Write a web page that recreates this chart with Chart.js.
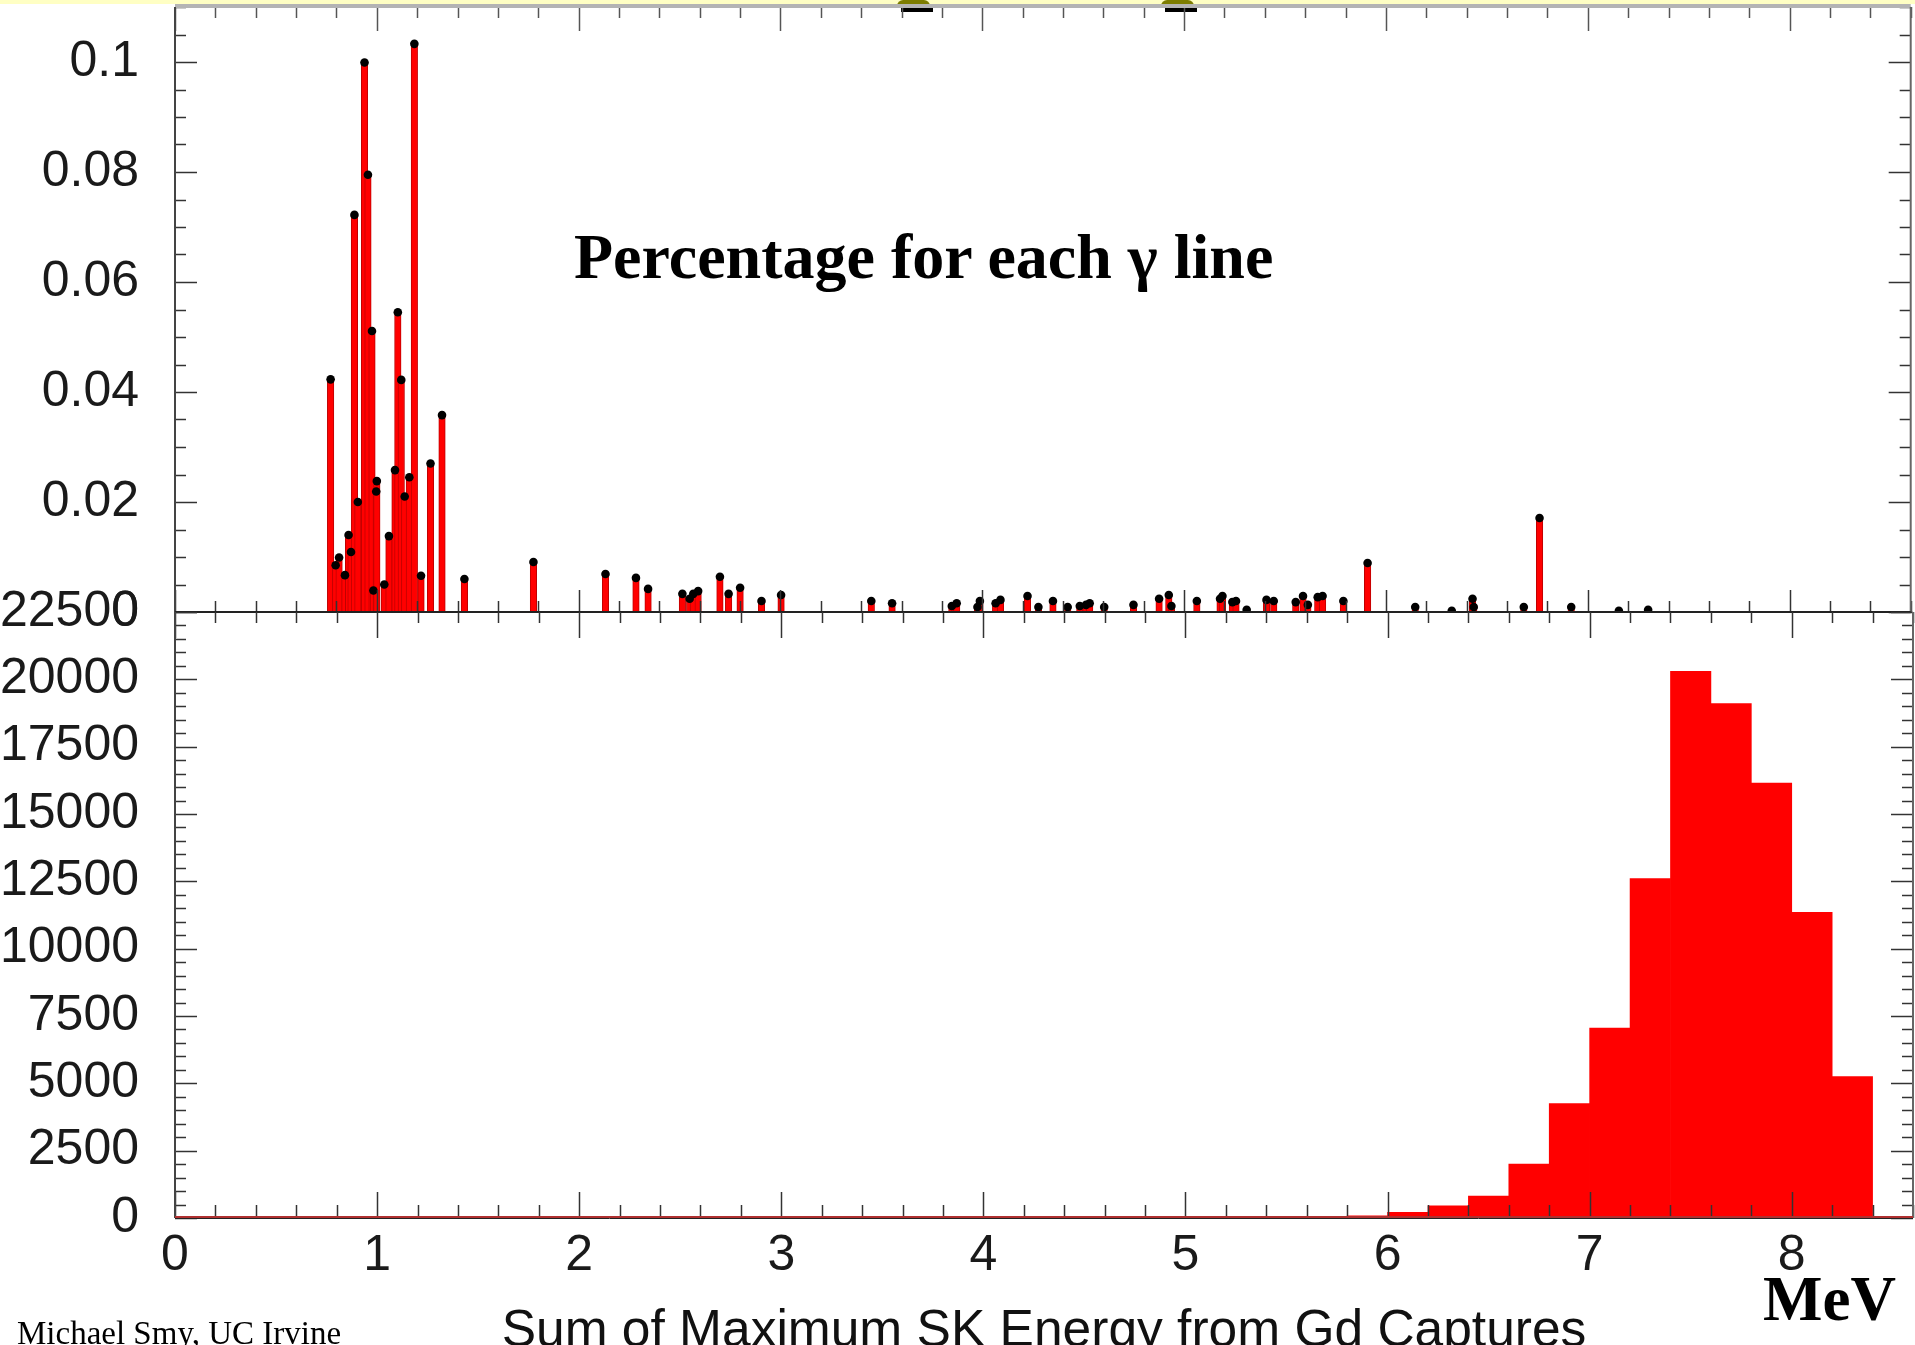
<!DOCTYPE html>
<html><head><meta charset="utf-8">
<script src="https://cdn.jsdelivr.net/npm/chart.js@4.4.0/dist/chart.umd.min.js"></script>
<style>
html,body{margin:0;padding:0;background:#fff;overflow:hidden;width:1915px;height:1345px;}
#wrap{position:relative;width:1915px;height:1345px;overflow:hidden;background:#fff;}
#band{position:absolute;left:0;top:0;width:1915px;height:4px;background:#ffffc4;}
canvas{position:absolute;left:0;top:0;}
.t{position:absolute;white-space:nowrap;color:#000;line-height:1;}
#title{left:574px;top:220px;font:bold 64px 'Liberation Serif','Times New Roman',serif;}
#mev{left:1763px;top:1263px;font:bold 63px 'Liberation Serif','Times New Roman',serif;}
#author{left:17px;top:1315px;font:33px 'Liberation Serif','Times New Roman',serif;}
#xtitle{left:175px;width:1738px;text-align:center;top:1298px;font:51.5px 'Liberation Sans',Arial,sans-serif;color:#111;}
.pin{position:absolute;top:0;width:33px;height:7px;background:#7d7d00;border-radius:14px 14px 2px 2px;}
.pinb{position:absolute;top:8px;width:32px;height:4px;background:#000;}
</style></head><body>
<div id="wrap">
<div id="band"></div>
<div class="pin" style="left:897px"></div><div class="pinb" style="left:901px"></div>
<div class="pin" style="left:1161px"></div><div class="pinb" style="left:1165px"></div>
<canvas id="cTop" width="1915" height="1345"></canvas>
<canvas id="cBot" width="1915" height="1345"></canvas>
<div class="t" id="title">Percentage for each γ line</div>
<div class="t" id="xtitle">Sum of Maximum SK Energy from Gd Captures</div>
<div class="t" id="mev">MeV</div>
<div class="t" id="author">Michael Smy, UC Irvine</div>
</div>
<script>
// ---- data ----
// gamma line energies (MeV) and their fraction (top panel)
const lineEnergy = [0.771,0.796,0.813,0.842,0.860,0.872,0.889,0.906,0.939,0.956,0.976,0.983,0.997,1.000,1.037,1.060,1.090,1.104,1.121,1.138,1.161,1.186,1.219,1.266,1.323,1.434,
  1.776,2.133,2.284,2.344,2.514,2.550,2.568,2.592,2.700,2.743,2.800,2.906,3.003,3.450,3.553,3.849,3.873,3.976,3.988,4.066,4.090,4.224,4.278,4.350,4.423,4.483,4.514,4.532,4.604,4.749,4.876,4.924,4.937,
  5.063,5.178,5.190,5.239,5.257,5.310,5.408,5.444,5.553,5.589,5.613,5.662,5.686,5.789,5.909,6.145,6.326,6.429,6.435,6.683,6.761,6.918,7.154,7.299];
const lineFraction = [0.0423,0.0085,0.0099,0.0067,0.0140,0.0109,0.0722,0.0200,0.0999,0.0795,0.0511,0.0039,0.0219,0.0238,0.0050,0.0138,0.0258,0.0545,0.0422,0.0210,0.0245,0.1033,0.0066,0.0270,0.0358,0.0060,
  0.0091,0.0069,0.0062,0.0042,0.0033,0.0024,0.0033,0.0038,0.0064,0.0033,0.0044,0.0020,0.0031,0.0020,0.0016,0.0011,0.0016,0.0009,0.0020,0.0016,0.0022,0.0029,0.0009,0.0020,0.0009,0.0011,0.0013,0.0016,0.0009,0.0013,0.0024,0.0031,0.0011,
  0.0020,0.0024,0.0029,0.0018,0.0020,0.0004,0.0022,0.0020,0.0018,0.0029,0.0013,0.0027,0.0029,0.0020,0.0089,0.0009,0.0002,0.0024,0.0009,0.0009,0.0171,0.0009,0.0002,0.0004];
// summed-energy histogram (bottom panel), 0.2 MeV bins
const histBinCenter = [5.3,5.5,5.7,5.9,6.1,6.3,6.5,6.7,6.9,7.1,7.3,7.5,7.7,7.9,8.1,8.3,8.5];
const histCounts    = [5,15,35,80,210,450,810,2000,4250,7050,12600,20300,19100,16150,11350,5250,0];
// tick labels
const xTicks = [0,1,2,3,4,5,6,7,8];
const xTickLabels = ['0','1','2','3','4','5','6','7','8'];
const topYTicks = [0,0.02,0.04,0.06,0.08,0.1];
const topYTickLabels = ['0','0.02','0.04','0.06','0.08','0.1'];
const botYTicks = [0,2500,5000,7500,10000,12500,15000,17500,20000,22500];
const botYTickLabels = ['0','2500','5000','7500','10000','12500','15000','17500','20000','22500'];

const X_MIN = 0, X_MAX = 8.6;
const TICK_FONT = {family:"'Liberation Sans', Arial, sans-serif", size:50};

function line(ctx, x1, y1, x2, y2){ ctx.beginPath(); ctx.moveTo(x1,y1); ctx.lineTo(x2,y2); ctx.stroke(); }

const decor = {
  id:'decor',
  afterDatasetsDraw(chart, args, o){
    const {ctx, chartArea:a, scales:{x, y}} = chart;
    ctx.save();
    const nX = Math.round((X_MAX - X_MIN) / 0.2);
    for (let k = 0; k <= nX; k++){
      const v = X_MIN + k * 0.2;
      const px = Math.round(x.getPixelForValue(v)) + 0.5;
      const major = (k % 5) === 0;
      o.xEdges.forEach(e => {
        const y0 = e.at === 'top' ? a.top : a.bottom;
        const len = major ? e.maj : e.min;
        ctx.strokeStyle = e.color; ctx.lineWidth = e.w;
        line(ctx, px, y0, px, y0 + e.dir * len);
      });
    }
    const nY = Math.round(o.yMax / o.yMinor);
    for (let k = 0; k <= nY; k++){
      const v = k * o.yMinor;
      const py = Math.round(y.getPixelForValue(v)) + 0.5;
      const major = (k % o.yRatio) === 0;
      [[a.left, 1], [a.right, -1]].forEach(([x0, dir]) => {
        ctx.strokeStyle = o.yColor; ctx.lineWidth = 1.5;
        line(ctx, x0, py, x0 + dir * (major ? 22 : 11), py);
      });
    }
    o.frame.forEach(f => {
      ctx.strokeStyle = f.color; ctx.lineWidth = f.w;
      if (f.side === 'left') line(ctx, a.left, a.top, a.left, a.bottom);
      if (f.side === 'right') line(ctx, a.right, a.top, a.right, a.bottom);
      if (f.side === 'top') line(ctx, a.left, a.top + (f.off||0), a.right, a.top + (f.off||0));
      if (f.side === 'bottom') line(ctx, a.left, a.bottom + (f.off||0), a.right, a.bottom + (f.off||0));
    });
    ctx.restore();
  }
};

function yScale(min, max, ticks, labels){
  return {
    type:'linear', position:'left', min, max,
    afterBuildTicks: s => { s.ticks = ticks.map(v => ({value:v})); },
    afterFit: s => { s.width = 175; s.paddingTop = 0; s.paddingBottom = 0; },
    grid:{display:false, drawTicks:false}, border:{display:false},
    ticks:{padding:36, font:TICK_FONT, color:'#1a1a1a', autoSkip:false,
      callback: v => labels[ticks.indexOf(v)]}
  };
}

const common = {
  responsive:false, animation:false, events:[],
  plugins:{legend:{display:false}, tooltip:{enabled:false}, title:{display:false}}
};

new Chart(document.getElementById('cTop'), {
  type:'bar',
  data:{datasets:[
    {type:'scatter', order:0, data: lineEnergy.map((e,i)=>({x:e, y:lineFraction[i]})),
     pointRadius:4.3, pointBackgroundColor:'#000', pointBorderWidth:0},
    {type:'bar', order:1, data: lineEnergy.map((e,i)=>({x:e, y:lineFraction[i]})),
     backgroundColor:'#ff0000', borderColor:'#c00000', borderWidth:1, barThickness:6.5}
  ]},
  options:{...common,
    layout:{padding:{top:7, bottom:1345-612, left:0, right:2}},
    scales:{
      x:{type:'linear', min:X_MIN, max:X_MAX, offset:false, display:false, grid:{offset:false}},
      y: yScale(0, 0.11, topYTicks, topYTickLabels)
    },
    plugins:{...common.plugins, decor:{
      xEdges:[{at:'top', dir:1, maj:24, min:11, color:'#555', w:1.5},
              {at:'bottom', dir:-1, maj:22, min:11, color:'#333', w:1.5}],
      yMax:0.11, yMinor:0.005, yRatio:4, yColor:'#333',
      frame:[{side:'top', color:'#b4b4b4', w:4, off:-1}, {side:'left', color:'#444', w:2},
             {side:'right', color:'#666', w:2}, {side:'bottom', color:'#222', w:2}]
    }}
  },
  plugins:[decor]
});

new Chart(document.getElementById('cBot'), {
  type:'bar',
  data:{datasets:[
    {type:'bar', data: histBinCenter.map((c,i)=>({x:c, y:histCounts[i]})),
     backgroundColor:'#ff0000', borderWidth:0, barPercentage:1, categoryPercentage:1}
  ]},
  options:{...common,
    layout:{padding:{top:612, bottom:1345-1218-60, left:0, right:2}},
    scales:{
      x:{type:'linear', min:X_MIN, max:X_MAX, offset:false, position:'bottom', grid:{display:false, drawTicks:false, offset:false}, border:{display:false},
         afterBuildTicks: s => { s.ticks = xTicks.map(v => ({value:v})); },
         afterFit: s => { s.height = 60; s.paddingLeft = 0; s.paddingRight = 0; },
         ticks:{padding:8, font:TICK_FONT, color:'#1a1a1a', autoSkip:false, maxRotation:0,
           callback: v => xTickLabels[xTicks.indexOf(v)]}},
      y: yScale(0, 22500, botYTicks, botYTickLabels)
    },
    plugins:{...common.plugins, decor:{
      xEdges:[{at:'top', dir:1, maj:26, min:11, color:'#333', w:1.5},
              {at:'bottom', dir:-1, maj:26, min:13, color:'#333', w:1.5}],
      yMax:22500, yMinor:500, yRatio:5, yColor:'#333',
      frame:[{side:'left', color:'#444', w:2}, {side:'right', color:'#666', w:2},
             {side:'bottom', color:'#222', w:1, off:0.5}, {side:'bottom', color:'#b03030', w:2, off:-1}]
    }}
  },
  plugins:[decor]
});
</script>
</body></html>
